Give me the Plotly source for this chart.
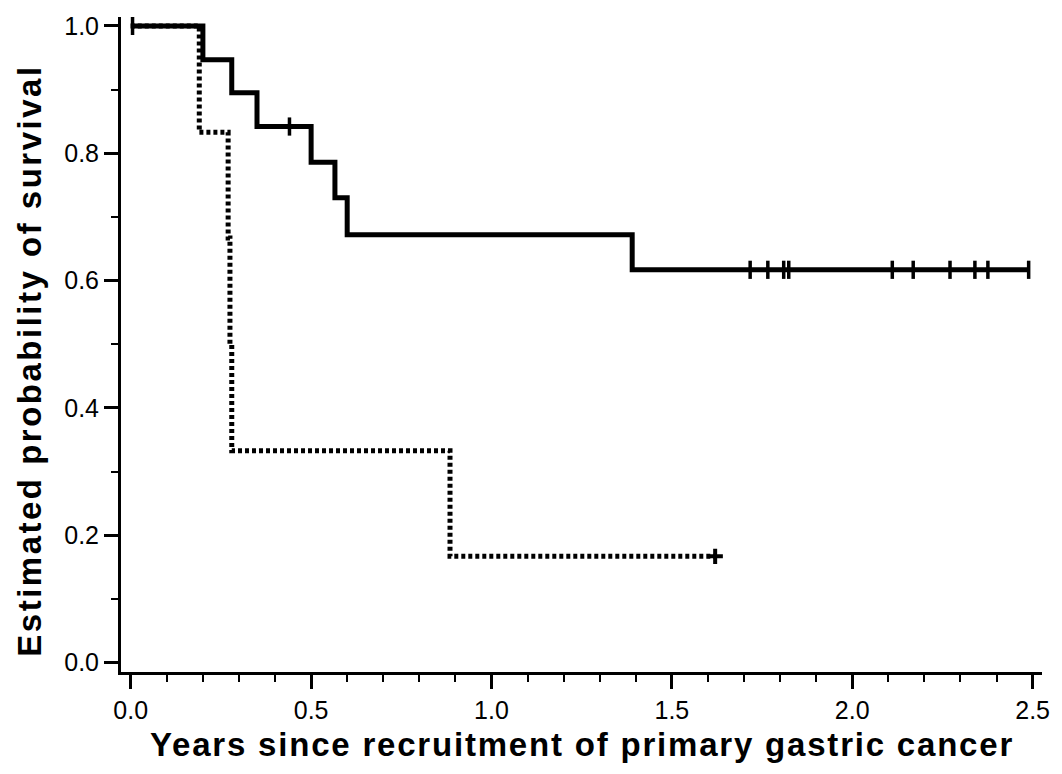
import plotly.graph_objects as go
import numpy as np

# Group A (solid line): event times and survival after each step
solid_times = [0.0, 0.20, 0.28, 0.35, 0.50, 0.566, 0.60, 1.39, 2.49]
solid_surv = [1.0, 0.947, 0.895, 0.842, 0.786, 0.730, 0.672, 0.617, 0.617]
solid_censor = [0.005, 0.44, 1.717, 1.766, 1.81, 1.824, 2.111, 2.169, 2.271, 2.34, 2.376, 2.489]

# Group B (dotted line)
dot_times = [0.0, 0.19, 0.27, 0.275, 0.28, 0.885, 1.62]
dot_surv = [1.0, 0.833, 0.667, 0.5, 0.333, 0.167, 0.167]
dot_censor = [1.62]

x_ticks = [0.0, 0.5, 1.0, 1.5, 2.0, 2.5]
y_ticks = [0.0, 0.2, 0.4, 0.6, 0.8, 1.0]


def surv_at(times, surv, t):
    idx = np.searchsorted(np.array(times), t, side="right") - 1
    return surv[max(idx, 0)]


fig = go.Figure()

fig.add_trace(go.Scatter(
    x=dot_times, y=dot_surv, mode="lines", line_shape="hv",
    line=dict(color="black", width=5, dash="4px,3px"), showlegend=False))
fig.add_trace(go.Scatter(
    x=solid_times, y=solid_surv, mode="lines", line_shape="hv",
    line=dict(color="black", width=5), showlegend=False))

fig.add_trace(go.Scatter(
    x=solid_censor, y=[surv_at(solid_times, solid_surv, t) for t in solid_censor],
    mode="markers", marker=dict(symbol="line-ns", size=13, line=dict(color="black", width=3.5)),
    showlegend=False))
fig.add_trace(go.Scatter(
    x=dot_censor, y=[surv_at(dot_times, dot_surv, t) for t in dot_censor],
    mode="markers", marker=dict(symbol="cross-thin", size=11, line=dict(color="black", width=4)),
    showlegend=False))

tickfont = dict(family="Liberation Sans, Arial, sans-serif", size=25, color="black")
titlefont = dict(family="Liberation Sans, Arial, sans-serif", size=33, color="black")

fig.update_layout(
    width=1062, height=774,
    margin=dict(l=121, r=15, t=15, b=102),
    plot_bgcolor="white", paper_bgcolor="white",
    xaxis=dict(
        range=[-0.027, 2.526], tickvals=x_ticks, ticktext=[f"{v:.1f}" for v in x_ticks],
        showgrid=False, zeroline=False, showline=True, linecolor="black", linewidth=3,
        ticks="outside", ticklen=14, tickwidth=3, tickcolor="black", tickfont=tickfont,
        minor=dict(dtick=0.1, tick0=0, ticks="outside", ticklen=7, tickwidth=2, tickcolor="black"),
    ),
    yaxis=dict(
        range=[-0.0146, 1.014], tickvals=y_ticks, ticktext=[f"{v:.1f}" for v in y_ticks],
        showgrid=False, zeroline=False, showline=True, linecolor="black", linewidth=3,
        ticks="outside", ticklen=14, tickwidth=3, tickcolor="black", tickfont=tickfont,
        minor=dict(dtick=0.1, tick0=0, ticks="outside", ticklen=7, tickwidth=2, tickcolor="black"),
    ),
    annotations=[
        dict(text='<span style="letter-spacing:1.8px"><b>Years since recruitment of primary gastric cancer</b></span>',
             xref="paper", yref="paper", x=0.5, y=-0.11, xanchor="center", yanchor="middle",
             showarrow=False, font=titlefont),
        dict(text='<span style="letter-spacing:2.5px"><b>Estimated probability of survival</b></span>',
             xref="paper", yref="paper", x=-0.099, y=0.475, xanchor="center", yanchor="middle",
             textangle=-90, showarrow=False, font=titlefont),
    ],
)

fig.write_html("out.html")
